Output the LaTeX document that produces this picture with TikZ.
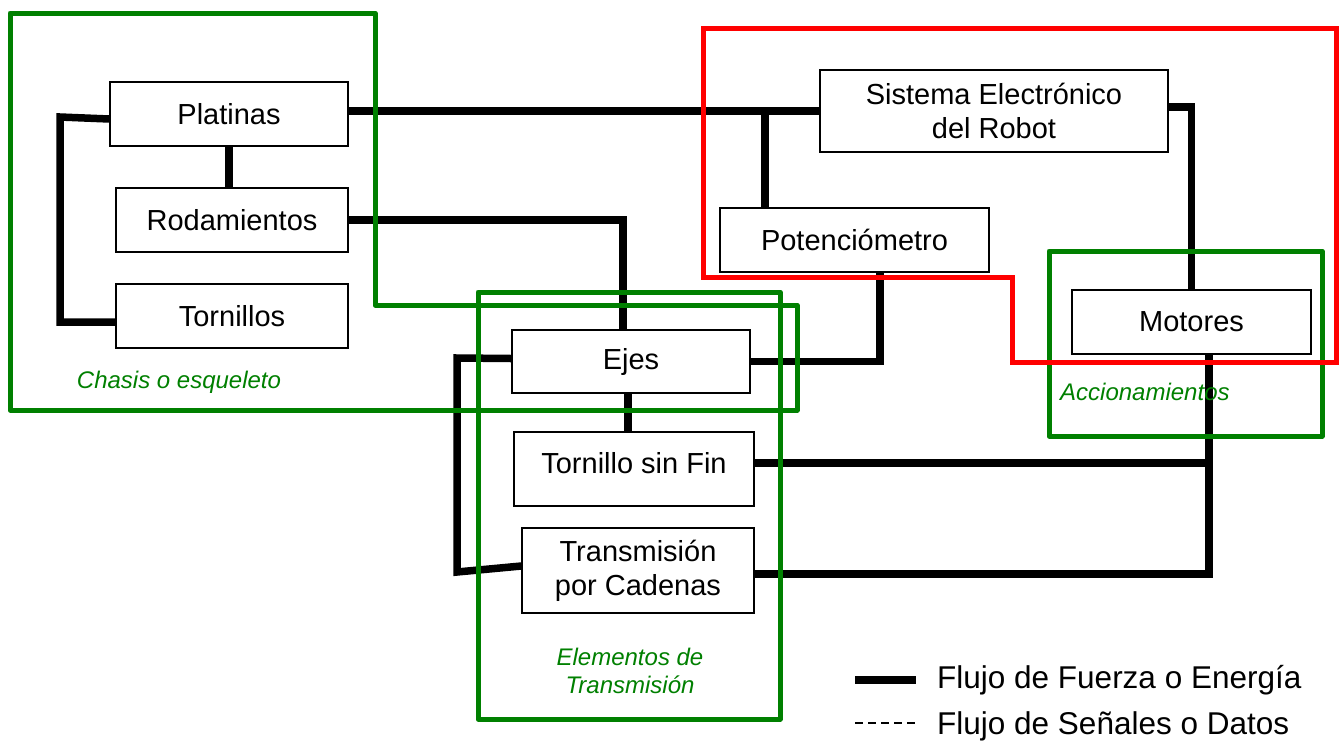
\documentclass[tikz,border=0pt]{standalone}
\usepackage{fontspec}
\setmainfont{Liberation Sans}
\definecolor{grn}{RGB}{0,128,0}
\definecolor{rd}{RGB}{255,0,0}
\begin{document}
\begin{tikzpicture}[x=1pt,y=-1pt,
  box/.style={draw, line width=1.5pt, fill=white, inner sep=0pt, align=center,
    font=\fontsize{29}{34}\selectfont},
  flow/.style={line width=7.5pt},
  grp/.style={draw=grn, line width=5pt, line join=round},
  grplabel/.style={text=grn, inner sep=0pt, align=center, font=\fontsize{24}{28}\selectfont\itshape},
  legtext/.style={anchor=west, inner sep=0pt, font=\fontsize{31.5}{36}\selectfont}]
\fill[white] (0,0) rectangle (1344,748);
\useasboundingbox (0,0) rectangle (1344,748);

% boxes
\node[box, minimum width=238pt, minimum height=64pt] (plat) at (229,114) {Platinas};
\node[box, minimum width=232pt, minimum height=64pt] (rod) at (232,220) {Rodamientos};
\node[box, minimum width=232pt, minimum height=64pt] (torn) at (232,316) {Tornillos};
\node[box, minimum width=348pt, minimum height=82pt] (sis) at (994,111) {Sistema Electrónico\\del Robot};
\node[box, minimum width=269pt, minimum height=64pt] (pot) at (854.5,240) {Potenciómetro};
\node[box, minimum width=239pt, minimum height=64pt] (mot) at (1191.5,322) {Motores};
\node[box, minimum width=238pt, minimum height=63pt] (ejes) at (631,361.5) {Ejes};
\node[box, minimum width=240pt, minimum height=74pt] (tsf) at (634,469) {\raisebox{13pt}{Tornillo sin Fin}};
\node[box, minimum width=232pt, minimum height=85pt] (trans) at (638,570.5) {Transmisión\\por Cadenas};

% connectors
\coordinate (br) at (765,111);
\draw[flow] (plat.east |- sis.west) -- (sis.west);
\draw[flow] (br) -- (br |- pot.north);
\draw[flow] ([yshift=4pt]sis.east) -| (mot.north);
\draw[flow] (plat.south) -- (plat.south |- rod.north);
\draw[flow] (rod.east) -| ([xshift=-8pt]ejes.north);
\draw[flow] ([yshift=-5pt]plat.west) -- (60,117) -- (60,322) -- ([yshift=-6pt]torn.west);
\draw[flow] ([yshift=3pt]ejes.west) -- (457,358) -- (457,572) -- ([yshift=4.5pt]trans.west);
\coordinate (ej) at ([xshift=-3pt]ejes.south);
\draw[flow] (ej) -- (ej |- tsf.north);
\draw[flow] (ejes.east) -| ([xshift=25.5pt]pot.south);
\coordinate (mdown) at (1209,574);
\draw[flow] ([xshift=17.5pt]mot.south) -- (mdown) -- ([yshift=-3.5pt]trans.east);
\draw[flow] ([yshift=6pt]tsf.east) -| (mdown);

% groups
\draw[grp] (10,13) -- (375,13) -- (375,305) -- (797,305) -- (797,410) -- (10,410) -- cycle;
\draw[grp] (478,292) rectangle (780,719);
\draw[grp] (1049,251) rectangle (1322,436);
\draw[draw=rd, line width=5pt] (703,28) -- (1336,28) -- (1336,362) -- (1012,362) -- (1012,277) -- (703,277) -- cycle;

\node[grplabel] (lchasis) at (179,382) {Chasis o esqueleto};
\node[grplabel] (lelem) at (630,671) {Elementos de\\Transmisión};
\node[grplabel, anchor=west] (lacc) at (1060,392) {Accionamientos};

% legend
\coordinate (l1a) at (855,680);
\coordinate (l1b) at (916,680);
\coordinate (l2a) at (855,723);
\coordinate (l2b) at (916,723);
\draw[flow] (l1a) -- (l1b);
\draw[line width=1.5pt, dash pattern=on 8pt off 5pt] (l2a) -- (l2b);
\node[legtext] (leg1) at (937,680) {Flujo de Fuerza o Energía};
\node[legtext] (leg2) at (937,726) {Flujo de Señales o Datos};
\end{tikzpicture}
\end{document}
